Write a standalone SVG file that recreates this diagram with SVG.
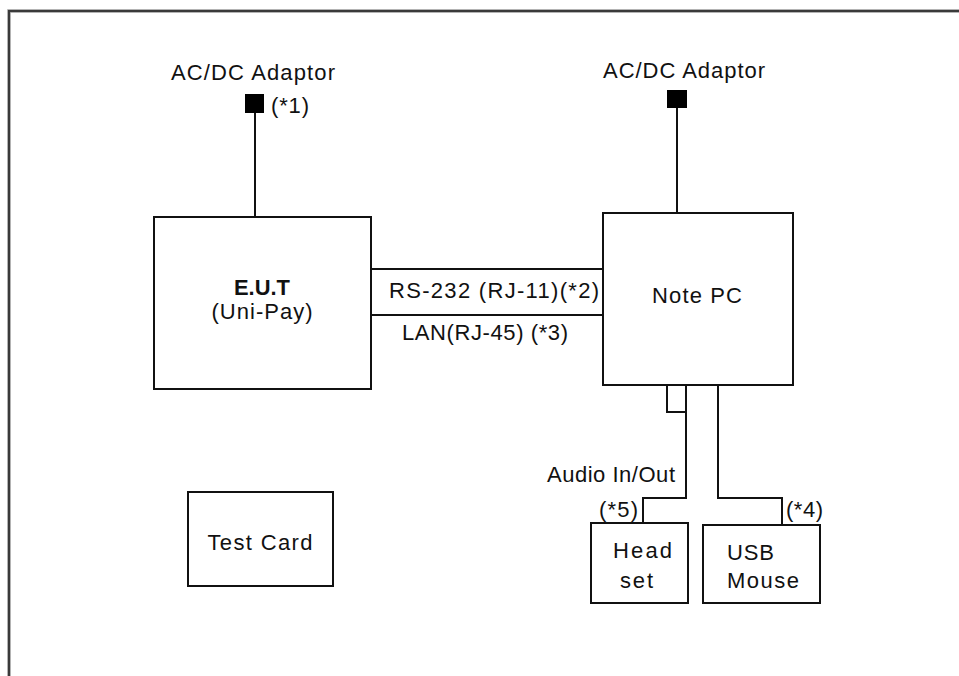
<svg xmlns="http://www.w3.org/2000/svg" width="959" height="676" viewBox="0 0 959 676">
<style>
text{font-family:"Liberation Sans",Arial,sans-serif;font-size:22px;fill:#111}
.box{fill:#fff;stroke:#111;stroke-width:2}
.wire{fill:none;stroke:#111;stroke-width:2}
.c{text-anchor:middle}
</style>
<rect width="959" height="676" fill="#fff"/>
<path d="M9,676 V11 H959" fill="none" stroke="#9a9a9a" stroke-width="3.5"/>
<path d="M9,676 V11 H959" fill="none" stroke="#3a3a3a" stroke-width="2"/>
<g id="connectors">
<path class="wire" d="M255,112 V217"/>
<path class="wire" d="M677,107 V213"/>
<path class="wire" d="M371,269 H603"/>
<path class="wire" d="M368,315 H603"/>
<path class="wire" d="M667,385 V412 H686"/>
<path class="wire" d="M686,385 V498 H643 V523"/>
<path class="wire" d="M718,385 V498 H782 V525"/>
</g>
<g id="adaptor1">
<text x="253" y="80" class="c" textLength="164" lengthAdjust="spacing">AC/DC Adaptor</text>
<rect x="245" y="94" width="19" height="19" fill="#000"/>
<text x="271" y="113" textLength="38" lengthAdjust="spacing">(*1)</text>
</g>
<g id="adaptor2">
<text x="684" y="78" class="c" textLength="162" lengthAdjust="spacing">AC/DC Adaptor</text>
<rect x="667" y="90" width="20" height="18" fill="#000"/>
</g>
<g id="eut">
<rect class="box" x="154" y="217" width="217" height="172"/>
<text x="262" y="295" class="c" font-weight="bold" font-size="20" textLength="56" lengthAdjust="spacingAndGlyphs">E.U.T</text>
<text x="262" y="319" class="c" textLength="101" lengthAdjust="spacing">(Uni-Pay)</text>
</g>
<g id="labels">
<text x="389" y="298" textLength="210" lengthAdjust="spacing">RS-232 (RJ-11)(*2)</text>
<text x="402" y="340" textLength="166" lengthAdjust="spacing">LAN(RJ-45) (*3)</text>
<text x="675" y="482" text-anchor="end" textLength="128" lengthAdjust="spacing">Audio In/Out</text>
<text x="599" y="517" textLength="39" lengthAdjust="spacing">(*5)</text>
<text x="786" y="517" textLength="37" lengthAdjust="spacing">(*4)</text>
</g>
<g id="notepc">
<rect class="box" x="603" y="213" width="190" height="172"/>
<text x="697" y="303" class="c" textLength="90" lengthAdjust="spacing">Note PC</text>
</g>
<g id="headset">
<rect class="box" x="591" y="523" width="97" height="80"/>
<text x="613" y="558" textLength="59" lengthAdjust="spacing">Head</text>
<text x="620" y="588" textLength="33" lengthAdjust="spacing">set</text>
</g>
<g id="usbmouse">
<rect class="box" x="703" y="525" width="117" height="78"/>
<text x="727" y="560" textLength="47" lengthAdjust="spacing">USB</text>
<text x="727" y="588" textLength="72" lengthAdjust="spacing">Mouse</text>
</g>
<g id="testcard">
<rect class="box" x="188" y="492" width="145" height="94"/>
<text x="260" y="550" class="c" textLength="105" lengthAdjust="spacing">Test Card</text>
</g>
</svg>
